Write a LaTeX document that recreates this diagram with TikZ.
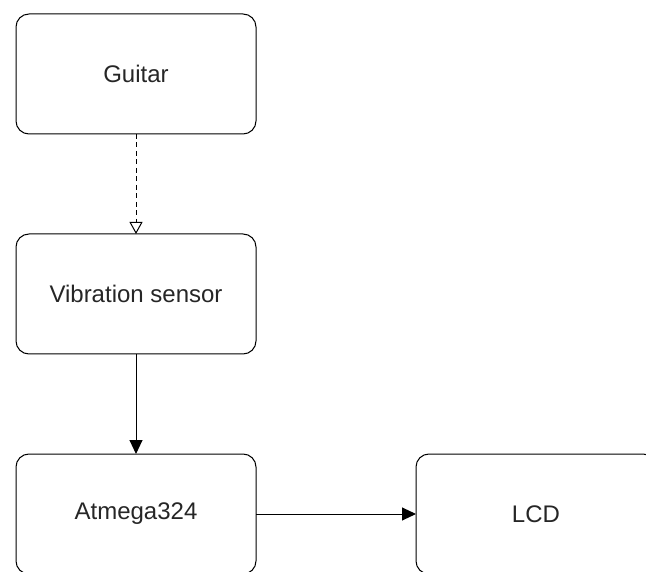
\documentclass[tikz,border=0pt]{standalone}
\usepackage{fontspec}
\setmainfont{Liberation Sans}
\usetikzlibrary{arrows.meta, positioning}

\begin{document}
\begin{tikzpicture}[
      block/.style={rectangle, draw, line width=1pt, minimum width=240pt, minimum height=120pt, text centered, rounded corners=13pt, outer sep=0pt, font=\fontsize{24}{28}\selectfont, text=black!85},
      arrow/.style={-{Triangle[length=14pt, width=13pt]}, line width=1pt},
      dasharrow/.style={-{Triangle[open, length=12pt, width=13pt]}, line width=1pt, dash pattern=on 5pt off 3.5pt},
      node distance=100pt and 160pt
    ]

    \useasboundingbox (0,0) rectangle (646pt,-572pt);

    \node[block] (guitar) at (136pt,-74pt) {Guitar};
    \node[block, below=of guitar] (sensor) {Vibration sensor};
    \node[block, below=of sensor] (mcu) {Atmega324};
    \node[block, right=of mcu] (lcd) {LCD};

    \draw[dasharrow] (guitar) -- (sensor);
    \draw[arrow] (sensor) -- (mcu);
    \draw[arrow] (mcu) -- (lcd);

    \end{tikzpicture}
\end{document}
